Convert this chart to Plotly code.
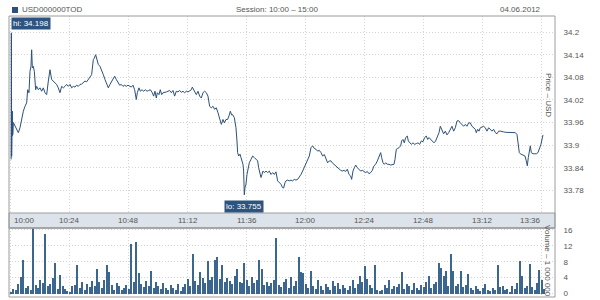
import pandas as pd
import plotly.graph_objects as go

# ---------------- data ----------------
session_date = "2012-06-04"
session_start = "10:00"

# price: minutes after 10:00 and price in USD
price_t = [0.05, 0.15, 0.27, 0.54, 0.62, 0.70, 0.80, 0.95, 1.36, 2.30, 2.98, 3.66, 4.34, 5.02, 5.70, 6.37, 6.78, 7.32, 7.73, 8.13,
           8.41, 8.68, 9.08, 9.49, 10.03, 10.44, 11.12, 11.80, 12.47, 13.15, 13.83, 14.51, 15.19, 15.86, 16.54, 17.22, 17.90, 18.58, 19.25, 19.93,
           20.61, 21.29, 21.97, 22.64, 23.32, 24.00, 24.68, 25.36, 26.03, 26.71, 27.39, 28.07, 28.75, 29.42, 30.10, 30.78, 31.46, 32.13, 32.81, 33.49,
           33.90, 34.44, 34.98, 35.52, 36.20, 36.88, 37.56, 38.24, 38.91, 39.59, 40.27, 40.95, 41.63,
           42.17, 42.85, 43.52, 44.20, 44.88, 45.56, 46.24, 46.91, 47.59, 48.27, 48.95, 49.63, 50.30, 50.98, 51.39, 52.07, 52.61, 53.29, 53.96, 54.64,
           55.32, 56.00, 56.68, 57.49, 58.03, 58.57, 59.12, 59.52, 60.20, 60.74, 61.29, 61.83, 62.51, 63.18, 63.86, 64.54, 65.22, 65.90, 66.57, 67.25,
           67.93, 68.61, 69.29, 69.96, 70.64, 71.32, 72.00, 72.68, 73.35, 73.76, 74.30, 74.85, 75.39, 76.07, 76.74, 77.42, 78.10, 78.78, 79.46, 80.13,
           80.81, 81.49, 82.17, 82.85, 83.52, 84.20, 84.88, 85.56, 86.24,
           86.78, 87.46, 88.13, 88.81, 89.22, 89.76, 90.17, 90.84, 91.52, 91.93, 92.20, 92.61, 93.15, 93.56, 93.96, 94.37, 94.64, 94.91, 95.18, 95.59,
           96.00, 96.54, 96.95, 97.62, 98.30, 98.98, 99.66, 100.34, 100.74, 101.15, 101.69, 102.10, 102.50, 103.05, 103.73, 104.40, 105.08, 105.76, 106.44, 107.12,
           107.79, 108.47, 109.15, 109.83, 110.50, 110.91, 111.45, 111.86, 112.54, 113.22, 113.89, 114.57, 115.25, 115.93, 116.61, 117.28, 117.96, 118.64, 119.32, 120.00,
           120.67, 121.35, 122.03, 122.71, 123.39, 124.06, 124.74, 125.42, 126.10, 126.78, 127.45, 128.13, 128.81, 129.49, 130.17,
           130.71, 131.39, 132.07, 132.75, 133.43, 134.11, 134.78, 135.46, 136.14, 136.82, 137.50, 138.17, 138.58, 139.12, 139.67, 140.21, 140.89, 141.56, 142.24, 142.92,
           143.60, 144.28, 144.95, 145.63, 146.31, 146.99, 147.66, 148.34, 149.02, 149.70, 150.38, 150.78, 151.33, 151.87, 152.41, 153.09, 153.77, 154.44, 155.12, 155.80,
           156.21, 156.75, 157.29, 157.83, 158.51, 158.92, 159.46, 160.00, 160.55, 161.22, 161.63, 162.17, 162.85, 163.53, 164.21, 164.88, 165.56, 166.24, 166.92, 167.60,
           168.27, 168.95, 169.50, 170.04, 170.72, 171.39, 172.07, 172.75, 173.43, 174.11,
           174.65, 175.32, 176.00, 176.68, 177.36, 178.04, 178.71, 179.39, 180.07, 180.75, 181.43, 182.10, 182.78, 183.46, 184.14, 184.82, 185.49, 186.17, 186.85, 187.53,
           188.21, 188.88, 189.29, 189.83, 190.38, 190.92, 191.60, 192.27, 192.95, 193.63, 194.31, 194.99, 195.66, 196.34, 197.02, 197.70, 198.38, 199.05, 199.73, 200.41,
           201.09, 201.77, 202.44, 203.12, 203.80, 204.48, 205.16, 205.83, 206.37, 206.78, 207.19, 207.87, 208.54, 209.09, 209.63, 210.04, 210.44, 210.85, 211.26, 211.66,
           212.34, 213.02, 213.70, 214.37, 214.92, 215.59, 216.14, 216.41]
price_v = [33.862, 34.198, 33.870, 33.990, 33.925, 33.985, 33.930, 33.960, 33.955, 33.942, 33.933, 33.946, 33.973, 33.990, 34.003, 34.012, 34.047, 34.039, 34.096, 34.109,
           34.153, 34.105, 34.109, 34.096, 34.047, 34.056, 34.047, 34.052, 34.043, 34.052, 34.039, 34.034, 34.070, 34.100, 34.074, 34.070, 34.065, 34.061, 34.052, 34.039,
           34.056, 34.052, 34.056, 34.061, 34.056, 34.061, 34.052, 34.056, 34.054, 34.059, 34.056, 34.061, 34.062, 34.065, 34.070, 34.068, 34.074, 34.078, 34.087, 34.127,
           34.131, 34.140, 34.127, 34.114, 34.109, 34.100, 34.087, 34.074, 34.061, 34.052, 34.061, 34.070, 34.078,
           34.083, 34.074, 34.065, 34.059, 34.061, 34.056, 34.059, 34.056, 34.059, 34.056, 34.054, 34.059, 34.047, 34.021, 34.039, 34.052, 34.043, 34.047, 34.043, 34.047,
           34.043, 34.045, 34.047, 34.039, 34.030, 34.043, 34.025, 34.039, 34.034, 34.047, 34.034, 34.039, 34.039, 34.041, 34.043, 34.045, 34.039, 34.045, 34.030, 34.043,
           34.041, 34.045, 34.040, 34.043, 34.039, 34.043, 34.041, 34.045, 34.047, 34.054, 34.047, 34.039, 34.034, 34.043, 34.030, 34.025, 34.039, 34.043, 34.039, 34.030,
           34.003, 33.999, 34.003, 33.995, 33.999, 33.986, 33.973, 33.955, 33.968,
           33.959, 33.968, 33.968, 33.980, 33.990, 33.980, 33.981, 33.973, 33.946, 33.911, 33.880, 33.871, 33.876, 33.867, 33.858, 33.849, 33.831, 33.768, 33.787, 33.796,
           33.822, 33.840, 33.853, 33.862, 33.871, 33.867, 33.862, 33.858, 33.840, 33.831, 33.814, 33.822, 33.831, 33.827, 33.831, 33.827, 33.831, 33.822, 33.827, 33.822,
           33.829, 33.805, 33.800, 33.796, 33.787, 33.786, 33.800, 33.805, 33.807, 33.805, 33.807, 33.805, 33.809, 33.807, 33.809, 33.814, 33.822, 33.831, 33.840, 33.849,
           33.858, 33.871, 33.893, 33.898, 33.891, 33.889, 33.884, 33.886, 33.880, 33.871, 33.875, 33.862, 33.853, 33.858, 33.858,
           33.853, 33.849, 33.845, 33.840, 33.836, 33.833, 33.831, 33.833, 33.830, 33.836, 33.822, 33.818, 33.809, 33.831, 33.840, 33.847, 33.840, 33.836, 33.831, 33.833,
           33.830, 33.827, 33.830, 33.824, 33.827, 33.833, 33.845, 33.849, 33.858, 33.871, 33.880, 33.867, 33.853, 33.849, 33.853, 33.849, 33.849, 33.847, 33.849, 33.849,
           33.862, 33.889, 33.891, 33.893, 33.898, 33.911, 33.915, 33.906, 33.920, 33.924, 33.911, 33.906, 33.902, 33.906, 33.902, 33.904, 33.906, 33.902, 33.911, 33.909,
           33.920, 33.924, 33.915, 33.920, 33.915, 33.911, 33.906, 33.911, 33.920, 33.933,
           33.950, 33.942, 33.930, 33.937, 33.927, 33.933, 33.942, 33.950, 33.937, 33.946, 33.964, 33.965, 33.959, 33.955, 33.950, 33.955, 33.950, 33.959, 33.959, 33.950,
           33.946, 33.942, 33.933, 33.942, 33.937, 33.946, 33.948, 33.950, 33.946, 33.937, 33.946, 33.942, 33.937, 33.942, 33.933, 33.930, 33.937, 33.937, 33.935, 33.935,
           33.934, 33.934, 33.935, 33.933, 33.933, 33.935, 33.933, 33.928, 33.902, 33.880, 33.877, 33.875, 33.874, 33.871, 33.858, 33.845, 33.867, 33.889, 33.898, 33.880,
           33.877, 33.877, 33.877, 33.880, 33.889, 33.902, 33.919, 33.927]

# volume per minute (millions), minute 0 = 10:00
volume = [0.4, 1.2, 0.8, 2.5, 4.2, 8.4, 1.5, 2.0, 0.9, 16.5,
          2.2, 1.4, 3.4, 2.6, 15.1, 1.8, 2.4, 3.8, 7.6, 1.2,
          4.6, 2.0, 1.1, 0.6, 0.4, 1.9, 2.2, 7.1, 1.5, 2.8,
          0.9, 2.4, 1.6, 3.1, 2.0, 6.3, 2.9, 1.4, 3.5, 7.3,
          5.5, 2.2, 1.0, 2.6, 1.8, 0.8, 1.5, 2.1, 1.2, 12.4,
          3.0, 13.0, 5.2, 2.4, 1.6, 3.2, 2.0, 5.6, 1.4, 2.8,
          1.9, 1.1, 2.6, 1.3, 0.8, 2.2, 1.5, 1.0, 2.4, 0.7,
          1.6, 2.5, 3.6, 2.0, 9.9, 3.1, 2.2, 5.5, 3.8, 2.6,
          8.2, 3.4, 4.2, 8.4, 9.1, 3.6, 7.1, 2.8, 4.0, 3.2,
          2.5, 4.4, 6.3, 3.0, 2.6, 7.6, 3.4, 2.0, 4.1, 2.7,
          3.5, 8.4, 6.3, 2.2, 3.0, 1.8, 2.6, 3.3, 13.9, 2.1,
          1.7, 2.9, 3.6, 1.4, 4.2, 2.0, 3.1, 9.2, 5.3, 5.1,
          2.3, 1.5, 5.6, 2.0, 1.2, 3.5, 1.8, 0.9, 2.4, 1.6,
          0.8, 3.1, 1.9, 2.6, 1.1, 2.2, 1.4, 0.9, 2.0, 3.3,
          1.5, 2.4, 4.3, 2.9, 7.0, 3.6, 2.1, 1.4, 7.3, 1.0,
          0.6, 0.9, 2.2, 1.5, 3.3, 1.1, 2.0, 1.6, 2.5, 5.3,
          1.2, 2.3, 1.8, 0.9, 2.6, 1.4, 1.0, 2.1, 1.7, 2.8,
          4.3, 1.5, 2.4, 3.0, 7.7, 6.5, 4.5, 5.6, 2.0, 10.0,
          5.6, 1.9, 2.4, 5.6, 1.6, 2.2, 4.8, 1.3, 0.8, 2.0,
          1.2, 0.7, 1.5, 2.3, 1.0, 0.6, 1.4, 0.9, 7.3, 1.6,
          1.8, 0.8, 1.1, 0.5, 1.8, 1.2, 2.6, 8.3, 4.5, 1.4,
          2.0, 7.4, 1.7, 0.9, 2.6, 6.0, 3.5, 1.2]

x_tick_labels = ["10:00", "10:24", "10:48", "11:12", "11:36", "12:00", "12:24", "12:48", "13:12", "13:36"]
price_ticks = [33.78, 33.84, 33.9, 33.96, 34.02, 34.08, 34.14, 34.2]
volume_ticks = [0, 4, 8, 12, 16]

hi_value = 34.198
lo_value = 33.755

# ---------------- build ----------------
base = pd.Timestamp(f"{session_date} {session_start}")
px = [base + pd.Timedelta(minutes=m) for m in price_t]
vx = list(pd.date_range(base, periods=len(volume), freq="min"))
tick_times = [pd.Timestamp(f"{session_date} {s}") for s in x_tick_labels]

TXT = "#555555"
LINE = "#2b5079"
BAR = "#3a6690"
GRID = "#d4d4d4"
FRAME = "#9c9c9c"
FONT = "Liberation Sans, Arial, sans-serif"
DOT = "1px,2px"

fig = go.Figure()
fig.add_trace(go.Scatter(x=px, y=price_v, mode="lines",
                         line=dict(color=LINE, width=1), xaxis="x", yaxis="y",
                         showlegend=False, hoverinfo="skip"))
fig.add_trace(go.Bar(x=vx, y=volume, marker=dict(color=BAR, line=dict(width=0)),
                     width=28000, xaxis="x2", yaxis="y2", showlegend=False, hoverinfo="skip"))

x_range = [base - pd.Timedelta(minutes=0.81), base + pd.Timedelta(minutes=221.3)]
vol_top = 0.2456
price_bottom = 0.2989

common_x = dict(type="date", range=x_range, tickvals=tick_times, showticklabels=False,
                showgrid=True, gridcolor=GRID, griddash=DOT, gridwidth=1,
                zeroline=False, showline=False, ticks="")
fig.update_layout(
    width=600, height=300,
    margin=dict(l=9, r=45, t=16, b=3),
    paper_bgcolor="white", plot_bgcolor="white",
    font=dict(family=FONT, size=8, color=TXT),
    bargap=0,
    xaxis=dict(domain=[0, 1], anchor="y", **common_x),
    xaxis2=dict(domain=[0, 1], anchor="y2", matches="x", **common_x),
    yaxis=dict(domain=[price_bottom, 1], anchor="x", side="right",
               range=[33.7197, 34.2427], tickvals=price_ticks,
               ticktext=[f"{v:g}" for v in price_ticks],
               showgrid=True, gridcolor=GRID, griddash=DOT, zeroline=False,
               ticks="outside", ticklen=6, tickcolor="rgba(0,0,0,0)",
               tickfont=dict(size=8, color=TXT)),
    yaxis2=dict(domain=[0, vol_top], anchor="x2", side="right",
                range=[-0.88, 16.5], tickvals=volume_ticks,
                showgrid=True, gridcolor=GRID, griddash=DOT, zeroline=False,
                ticks="outside", ticklen=6, tickcolor="rgba(0,0,0,0)",
                tickfont=dict(size=8, color=TXT)),
)

shapes = [
    # x label band
    dict(type="rect", xref="paper", yref="paper", x0=0, x1=1, y0=vol_top, y1=price_bottom,
         fillcolor="#dce3ea", line=dict(color=FRAME, width=1), layer="above"),
    # frames
    dict(type="rect", xref="paper", yref="paper", x0=0, x1=1, y0=vol_top, y1=1,
         fillcolor="rgba(0,0,0,0)", line=dict(color=FRAME, width=1), layer="above"),
    dict(type="rect", xref="paper", yref="paper", x0=0, x1=1, y0=0, y1=vol_top,
         fillcolor="rgba(0,0,0,0)", line=dict(color=FRAME, width=1), layer="above"),
    # header square
    dict(type="rect", xref="paper", yref="paper", x0=0.0055, x1=0.0165, y0=1.0107, y1=1.032,
         fillcolor="#2f5079", line=dict(width=0)),
]
fig.update_layout(shapes=shapes)

ann = []
band_y = 0.2722
for i, (tt, lab) in enumerate(zip(tick_times, x_tick_labels)):
    anchor = "center"
    shift = 0
    if i == 0:
        anchor, shift = "left", 1
    elif i == len(x_tick_labels) - 1:
        anchor, shift = "right", 1
    ann.append(dict(x=tt, y=band_y, xref="x", yref="paper", text=lab, showarrow=False,
                    xanchor=anchor, yanchor="middle", xshift=shift,
                    font=dict(size=8, color=TXT)))

ann += [
    dict(x=0.0201, y=1.0214, xref="paper", yref="paper", text="USD000000TOD", showarrow=False,
         xanchor="left", yanchor="middle", font=dict(size=8, color=TXT)),
    dict(x=0.4908, y=1.0214, xref="paper", yref="paper", text="Session: 10:00 – 15:00", showarrow=False,
         xanchor="center", yanchor="middle", font=dict(size=8, color=TXT)),
    dict(x=0.978, y=1.0214, xref="paper", yref="paper", text="04.06.2012", showarrow=False,
         xanchor="right", yanchor="middle", font=dict(size=8, color=TXT)),
    dict(x=0.987, y=0.7189, xref="paper", yref="paper", text="Price – USD", showarrow=False,
         textangle=90, xanchor="center", yanchor="middle", font=dict(size=8, color=TXT)),
    dict(x=0.987, y=0.1281, xref="paper", yref="paper", text="Volume – 1 000 000", showarrow=False,
         textangle=90, xanchor="center", yanchor="middle", font=dict(size=8, color=TXT)),
    dict(x=px[price_v.index(max(price_v))], y=max(price_v), xref="x", yref="y",
         text=f"hi: {hi_value:.3f}", showarrow=False, xanchor="left", yanchor="bottom",
         xshift=0, yshift=3, bgcolor="#2d5480", borderpad=1, font=dict(size=8, color="white")),
    dict(x=px[price_v.index(min(price_v))], y=min(price_v), xref="x", yref="y",
         text=f"lo: {lo_value:.3f}", showarrow=False, xanchor="center", yanchor="top",
         yshift=-5, bgcolor="#2d5480", borderpad=1, font=dict(size=8, color="white")),
]
fig.update_layout(annotations=ann)

fig.write_html("out.html")
